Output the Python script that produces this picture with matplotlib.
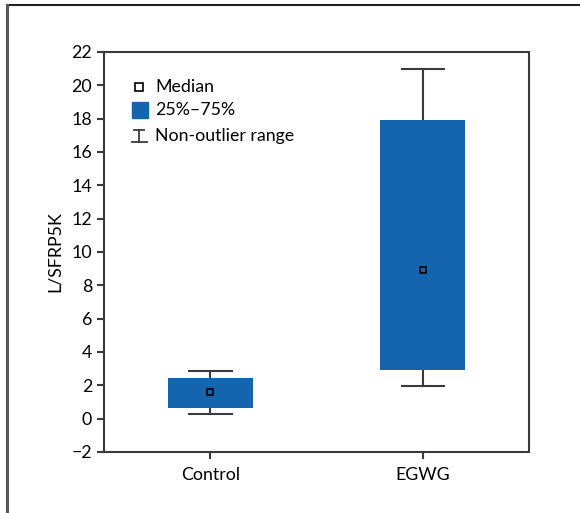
import numpy as np
import matplotlib.pyplot as plt
from matplotlib.lines import Line2D

plt.rcParams['font.family'] = ['Lato', 'DejaVu Sans']

groups = ['Control', 'EGWG']
q1 = [0.64, 2.92]
q3 = [2.42, 17.9]
med = [1.62, 8.9]
wlo = [0.26, 1.94]
whi = [2.86, 21.0]

blue = '#1565ae'
dark = '#3a3a3a'
fs = 12.8

fig = plt.figure(figsize=(5.8, 5.13), dpi=100)
ax = fig.add_axes([104/580, 1-452/513, 425/580, 400/513])

pos = np.arange(1, len(groups)+1)
bw = 0.40
cw = 0.20
for i in range(len(groups)):
    x = pos[i]
    ax.plot([x, x], [wlo[i], q1[i]], color=dark, lw=1.5, zorder=1)
    ax.plot([x, x], [q3[i], whi[i]], color=dark, lw=1.5, zorder=1)
    ax.plot([x-cw/2, x+cw/2], [wlo[i], wlo[i]], color=dark, lw=1.5, zorder=1)
    ax.plot([x-cw/2, x+cw/2], [whi[i], whi[i]], color=dark, lw=1.5, zorder=1)
    ax.bar(x, q3[i]-q1[i], bottom=q1[i], width=bw, color=blue, zorder=2)
    ax.plot(x, med[i], 's', ms=5, mfc=blue, mec='black', mew=1.2, zorder=3)

ax.set_xlim(0.5, 2.5)
ax.set_ylim(-2, 22)
ax.set_yticks(np.arange(-2, 23, 2))
ax.set_yticklabels([str(v).replace('-', '\u2212') for v in range(-2, 23, 2)])
ax.set_xticks(pos)
ax.set_xticklabels(groups)
ax.set_ylabel('L/SFRP5K', fontsize=fs, labelpad=6)
ax.tick_params(labelsize=fs, color=dark, width=1.5, length=5)
ax.tick_params(axis='x', pad=6)
for s in ax.spines.values():
    s.set_color(dark)
    s.set_linewidth(1.5)

# legend drawn by hand
tr = ax.transAxes
ax.plot(0.082, 0.9125, 's', ms=6, mfc='white', mec='black', mew=1.2, transform=tr, clip_on=False)
ax.text(0.12, 0.9125, 'Median', fontsize=fs, va='center', transform=tr)
ax.add_patch(plt.Rectangle((0.066, 0.835), 0.038, 0.04, color=blue, transform=tr))
ax.text(0.12, 0.855, '25%\u201375%', fontsize=fs, va='center', transform=tr)
yw = 0.79
ax.plot([0.082, 0.082], [yw-0.016, yw+0.016], color=dark, lw=1.3, transform=tr)
ax.plot([0.07, 0.094], [yw+0.016, yw+0.016], color=dark, lw=1.3, transform=tr)
ax.plot([0.066, 0.10], [yw-0.016, yw-0.016], color=dark, lw=1.3, transform=tr)
ax.text(0.12, yw, 'Non-outlier range', fontsize=fs, va='center', transform=tr)

# outer frame (top and left visible)
fig.add_artist(Line2D([7/580, 1], [1-5/513, 1-5/513], color='#222222', lw=1.5, transform=fig.transFigure))
fig.add_artist(Line2D([7/580, 7/580], [0, 1-5/513], color='#555555', lw=2.2, transform=fig.transFigure))

fig.savefig('out.png', dpi=100)
